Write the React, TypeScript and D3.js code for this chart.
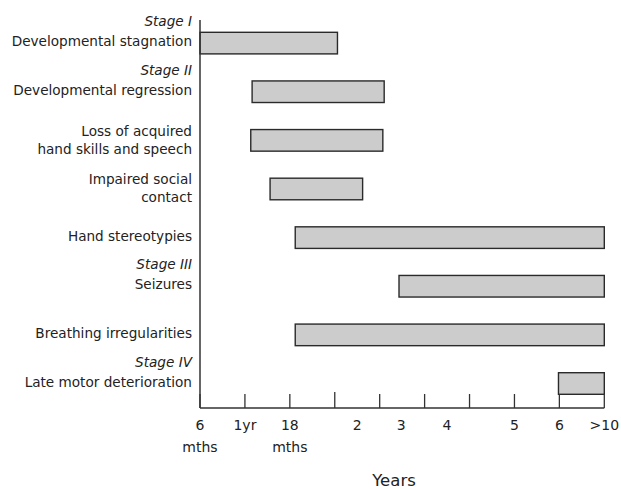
import React from "react";
import * as d3 from "d3";

// clinical features, one row per bar (top to bottom)
const features = [
  "Developmental stagnation",
  "Developmental regression",
  "Loss of acquired hand skills and speech",
  "Impaired social contact",
  "Hand stereotypies",
  "Seizures",
  "Breathing irregularities",
  "Late motor deterioration",
];
const labelLines = [
  ["Developmental stagnation"],
  ["Developmental regression"],
  ["Loss of acquired", "hand skills and speech"],
  ["Impaired social", "contact"],
  ["Hand stereotypies"],
  ["Seizures"],
  ["Breathing irregularities"],
  ["Late motor deterioration"],
];
const stages = ["Stage I", "Stage II", "", "", "", "Stage III", "", "Stage IV"];

// onset / end on the (non-linear) age axis, in tick units
const starts = [0, 1.16, 1.13, 1.56, 2.12, 4.43, 2.12, 7.98];
const ends = [3.06, 4.1, 4.07, 3.62, 9, 9, 9, 9];

const ticks = [0, 1, 2, 3, 4, 5, 6, 7, 8, 9];
const tickLabels = [["6", "mths"], ["1yr"], ["18", "mths"], ["2"], ["3"], ["4"], ["5"], ["6"], [">10"]];
const tickLabelPos = [0, 1, 2, 3.5, 4.48, 5.5, 7, 8, 9];

const W = 621;
const H = 489;
const FONT = "'DejaVu Sans', sans-serif";

export default function App() {
  const x = d3.scaleLinear().domain([0, 9]).range([200, 604.3]);
  const y = d3.scaleBand<string>().domain(features).range([32.3, 394.3]).paddingInner(0.556).paddingOuter(0);
  const axisY = 408;

  return (
    <svg
      width={W}
      height={H}
      style={{ position: "absolute", left: 0, top: 0, background: "#fff" }}
      fontFamily={FONT}
    >
      {/* bars */}
      {features.map((f, i) => (
        <rect
          key={f}
          x={x(starts[i])}
          y={y(f)}
          width={x(ends[i]) - x(starts[i])}
          height={y.bandwidth()}
          fill="#cccccc"
          stroke="#2a2a2a"
          strokeWidth={1.4}
        />
      ))}

      {/* axes */}
      <line x1={x(0)} x2={x(0)} y1={20} y2={axisY} stroke="#333" strokeWidth={1.5} />
      <line x1={x(0)} x2={x(9)} y1={axisY} y2={axisY} stroke="#333" strokeWidth={1.5} />
      {ticks.map((t) => (
        <line key={t} x1={x(t)} x2={x(t)} y1={axisY} y2={axisY - (t === 3 ? 16 : 14)} stroke="#333" strokeWidth={1.3} />
      ))}

      {/* tick labels */}
      {tickLabels.map((lines, i) => (
        <text key={i} x={x(tickLabelPos[i])} textAnchor="middle" fontSize={14} fill="#222">
          {lines.map((l, j) => (
            <tspan key={j} x={x(tickLabelPos[i])} y={430 + j * 21.5}>
              {l}
            </tspan>
          ))}
        </text>
      ))}
      <text x={394} y={486} textAnchor="middle" fontSize={16.5} fill="#222">
        Years
      </text>

      {/* row labels */}
      {features.map((f, i) => {
        const cy = (y(f) as number) + y.bandwidth() / 2;
        const lines = labelLines[i];
        const first = lines.length > 1 ? cy - 4.5 : cy + 3;
        return (
          <g key={f} fontSize={13.6} fill="#222" textAnchor="end">
            {stages[i] && (
              <text x={192} y={first - 20} fontStyle="italic">
                {stages[i]}
              </text>
            )}
            {lines.map((l, j) => (
              <text key={j} x={192} y={first + j * 18}>
                {l}
              </text>
            ))}
          </g>
        );
      })}
    </svg>
  );
}
